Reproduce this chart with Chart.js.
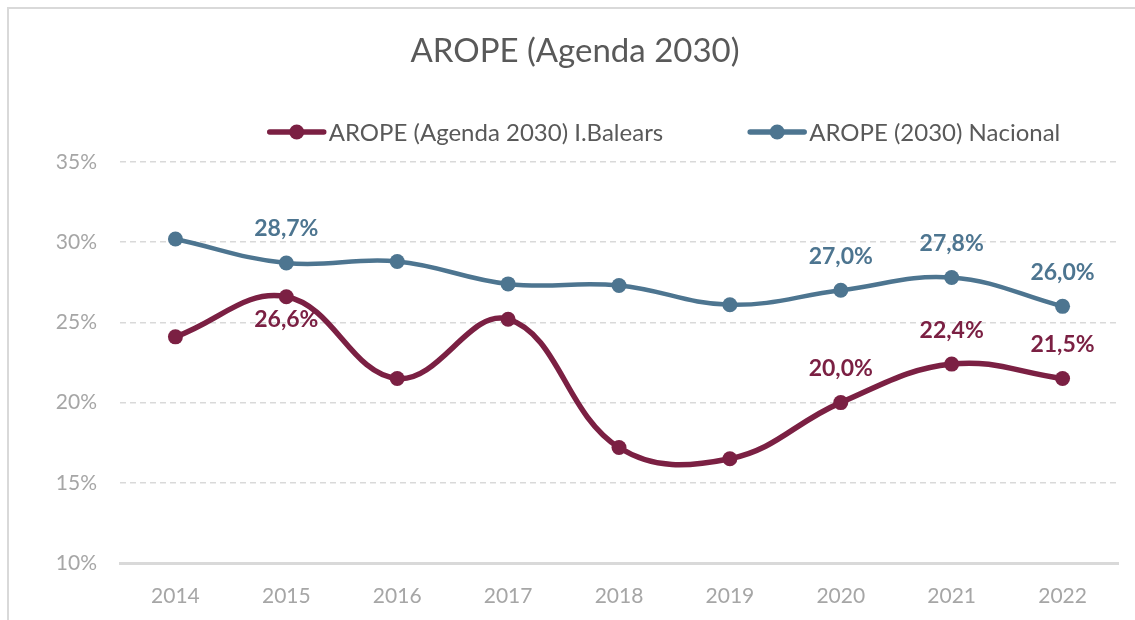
<!doctype html>
<html>

<head>
    <title>AROPE (Agenda 2030)</title>
    <script src="https://cdn.jsdelivr.net/npm/chart.js@4.4.1/dist/chart.umd.min.js"></script>
    <style>
    body { margin: 0; background: #fff; }
    #container { width: 1135px; height: 620px; }
    </style>
</head>

<body>
    <div id="container">
        <canvas id="canvas" width="1135" height="620"></canvas>
    </div>

    <script>
        var years = ['2014', '2015', '2016', '2017', '2018', '2019', '2020', '2021', '2022'];
        var balears = [24.1, 26.6, 21.5, 25.2, 17.2, 16.5, 20.0, 22.4, 21.5];
        var nacional = [30.2, 28.7, 28.8, 27.4, 27.3, 26.1, 27.0, 27.8, 26.0];
        var yTicks = [10, 15, 20, 25, 30, 35];
        // which points get a value label, and where
        var balearsLabels = { 1: 'below', 6: 'above', 7: 'above', 8: 'above' };
        var nacionalLabels = { 1: 'above', 6: 'above', 7: 'above', 8: 'above' };

        var FONT = 'Lato, "Open Sans", sans-serif';
        var RED = '#7B2043';
        var BLUE = '#4D7590';

        function fmt(v) {
            return v.toFixed(1).replace('.', ',') + '%';
        }

        var chrome = {
            id: 'chrome',
            beforeDraw: function(chart) {
                var ctx = chart.ctx;
                ctx.save();
                ctx.fillStyle = '#fff';
                ctx.fillRect(0, 0, chart.width, chart.height);
                ctx.strokeStyle = '#d9d9d9';
                ctx.lineWidth = 2;
                ctx.strokeRect(8, 8, chart.width + 20, chart.height + 20);
                ctx.restore();
            },
            afterDraw: function(chart) {
                var ctx = chart.ctx;
                ctx.save();
                // title
                ctx.fillStyle = '#595959';
                ctx.font = '33px ' + FONT;
                ctx.textAlign = 'center';
                ctx.textBaseline = 'middle';
                ctx.fillText('AROPE (Agenda 2030)', 575, 51);

                // legend
                ctx.font = '24px ' + FONT;
                ctx.textAlign = 'left';
                var sets = chart.data.datasets;
                var markW = 58, gapText = 3, gapItem = 85;
                var widths = sets.map(function(ds) { return markW + gapText + ctx.measureText(ds.label).width; });
                var total = widths[0] + widths[1] + gapItem;
                var x = 664 - total / 2;
                var y = 132;
                sets.forEach(function(ds, i) {
                    ctx.strokeStyle = ds.borderColor;
                    ctx.lineWidth = 5.5;
                    ctx.lineCap = 'round';
                    ctx.beginPath();
                    ctx.moveTo(x + 2, y);
                    ctx.lineTo(x + markW - 2, y);
                    ctx.stroke();
                    ctx.fillStyle = ds.borderColor;
                    ctx.beginPath();
                    ctx.arc(x + markW / 2, y, 7.5, 0, Math.PI * 2);
                    ctx.fill();
                    ctx.fillStyle = '#595959';
                    ctx.fillText(ds.label, x + markW + gapText, y + 1);
                    x += widths[i] + gapItem;
                });

                // value labels
                ctx.font = 'bold 23px ' + FONT;
                ctx.textAlign = 'center';
                var maps = [balearsLabels, nacionalLabels];
                sets.forEach(function(ds, i) {
                    var meta = chart.getDatasetMeta(i);
                    Object.keys(maps[i]).forEach(function(k) {
                        var pt = meta.data[k];
                        var pos = maps[i][k];
                        ctx.fillStyle = ds.borderColor;
                        ctx.fillText(fmt(ds.data[k]), pt.x, pos === 'above' ? pt.y - 34 : pt.y + 23);
                    });
                });
                ctx.restore();
            }
        };

        window.onload = function() {
            var ctx = document.getElementById('canvas').getContext('2d');
            window.myLine = new Chart(ctx, {
                type: 'line',
                data: {
                    labels: years,
                    datasets: [{
                        label: 'AROPE (Agenda 2030) I.Balears',
                        data: balears,
                        borderColor: RED,
                        backgroundColor: RED,
                        pointBackgroundColor: RED,
                        borderWidth: 5.5,
                        pointRadius: 7.5,
                        pointBorderWidth: 0,
                        tension: 0.4
                    }, {
                        label: 'AROPE (2030) Nacional',
                        data: nacional,
                        borderColor: BLUE,
                        backgroundColor: BLUE,
                        pointBackgroundColor: BLUE,
                        borderWidth: 4.5,
                        pointRadius: 7.5,
                        pointBorderWidth: 0,
                        tension: 0.4
                    }]
                },
                options: {
                    responsive: false,
                    animation: false,
                    layout: {
                        padding: { left: 0, right: 17, top: 162, bottom: 0 }
                    },
                    plugins: {
                        legend: { display: false },
                        title: { display: false },
                        tooltip: { enabled: false }
                    },
                    scales: {
                        x: {
                            offset: true,
                            grid: { display: false, drawTicks: false },
                            border: { display: true, color: '#d9d9d9', width: 3 },
                            ticks: {
                                color: '#a6a6a6',
                                padding: 21,
                                font: { family: FONT, size: 21 }
                            },
                            afterFit: function(scale) { scale.height = 57; }
                        },
                        y: {
                            min: 10,
                            max: 35,
                            afterBuildTicks: function(scale) {
                                scale.ticks = yTicks.map(function(v) { return { value: v }; });
                            },
                            grid: { color: '#d9d9d9', lineWidth: 1.5, drawTicks: false },
                            border: { display: false, dash: [6, 4] },
                            ticks: {
                                color: '#a6a6a6',
                                padding: 23,
                                font: { family: FONT, size: 21 },
                                callback: function(v) { return v + '%'; }
                            },
                            afterFit: function(scale) { scale.width = 120; }
                        }
                    }
                },
                plugins: [chrome]
            });
        };
    </script>
</body>

</html>
